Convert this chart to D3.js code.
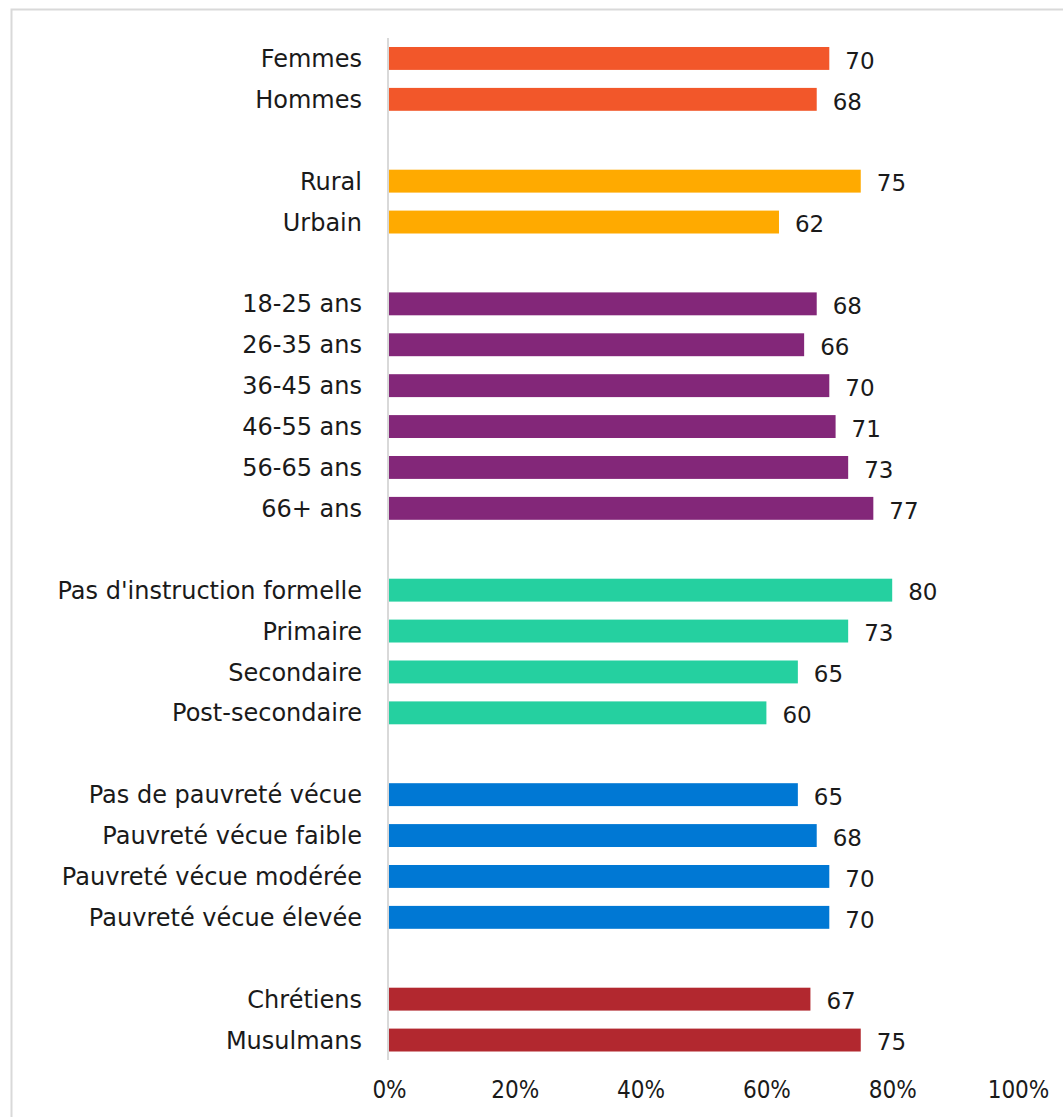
<!DOCTYPE html>
<html>
<head>
<meta charset="utf-8">
<script src="https://cdn.jsdelivr.net/npm/d3@7"></script>
<style>
  html, body { margin: 0; padding: 0; background: #fff; }
  svg { display: block; }
</style>
</head>
<body>
<svg id="chart" width="1063" height="1117"></svg>
<script>
// Category labels, in display order; empty strings are spacer rows between groups
const categories = [
  "Femmes", "Hommes", "",
  "Rural", "Urbain", "",
  "18-25 ans", "26-35 ans", "36-45 ans", "46-55 ans", "56-65 ans", "66+ ans", "",
  "Pas d'instruction formelle", "Primaire", "Secondaire", "Post-secondaire", "",
  "Pas de pauvreté vécue", "Pauvreté vécue faible", "Pauvreté vécue modérée", "Pauvreté vécue élevée", "",
  "Chrétiens", "Musulmans"
];
// Percentage for each category (null for spacer rows)
const values = [
  70, 68, null,
  75, 62, null,
  68, 66, 70, 71, 73, 77, null,
  80, 73, 65, 60, null,
  65, 68, 70, 70, null,
  67, 75
];
// Group index of each row, used to pick the bar colour
const groups = [
  0, 0, null,
  1, 1, null,
  2, 2, 2, 2, 2, 2, null,
  3, 3, 3, 3, null,
  4, 4, 4, 4, null,
  5, 5
];
const groupColors = ["#F2572A", "#FFAA00", "#832779", "#25D0A0", "#0078D4", "#B2282F"];
const xTicks = [0, 20, 40, 60, 80, 100];

const svg = d3.select("#chart");
const labelFont = "'DejaVu Sans', sans-serif";
const tickFont = "'Liberation Sans Narrow', 'DejaVu Sans Condensed', sans-serif";

// Light frame around the plot area
svg.append("path")
  .attr("d", "M11.5,1117 V9.5 H1063")
  .attr("fill", "none")
  .attr("stroke", "#d9d9d9")
  .attr("stroke-width", 2);

const x = d3.scaleLinear().domain([0, 100]).range([389, 1018]);
const rows = categories.map((c, i) => ({ key: "r" + i, label: c, value: values[i], group: groups[i] }));
const y = d3.scaleBand()
  .domain(rows.map(r => r.key))
  .range([38, 1060.5])
  .paddingInner(0.44)
  .paddingOuter(0.22);

// Bars
svg.append("g").selectAll("rect")
  .data(rows.filter(r => r.value !== null))
  .join("rect")
  .attr("x", x(0))
  .attr("y", d => y(d.key))
  .attr("width", d => x(d.value) - x(0))
  .attr("height", y.bandwidth())
  .attr("fill", d => groupColors[d.group]);

// Vertical axis line
svg.append("line")
  .attr("x1", 388).attr("x2", 388)
  .attr("y1", 38).attr("y2", 1060)
  .attr("stroke", "#d9d9d9")
  .attr("stroke-width", 2);

// Category labels
svg.append("g").selectAll("text")
  .data(rows.filter(r => r.label !== ""))
  .join("text")
  .attr("x", 362)
  .attr("y", d => y(d.key) + y.bandwidth() / 2)
  .attr("dy", "0.36em")
  .attr("text-anchor", "end")
  .attr("font-family", labelFont)
  .attr("font-size", 24)
  .attr("fill", "#1a1a1a")
  .text(d => d.label);

// Value labels
svg.append("g").selectAll("text")
  .data(rows.filter(r => r.value !== null))
  .join("text")
  .attr("x", d => x(d.value) + 16)
  .attr("y", d => y(d.key) + y.bandwidth() / 2 + 2)
  .attr("dy", "0.36em")
  .attr("font-family", labelFont)
  .attr("font-size", 23)
  .attr("fill", "#1a1a1a")
  .text(d => d.value);

// Bottom axis tick labels
const xAxis = d3.axisBottom(x)
  .tickValues(xTicks)
  .tickFormat(d => d + "%")
  .tickSize(0)
  .tickPadding(0);
const axisG = svg.append("g")
  .attr("transform", "translate(0,1081)")
  .call(xAxis);
axisG.select(".domain").remove();
axisG.selectAll("text")
  .attr("font-family", tickFont)
  .attr("font-size", 24)
  .attr("fill", "#1a1a1a");
</script>
</body>
</html>
